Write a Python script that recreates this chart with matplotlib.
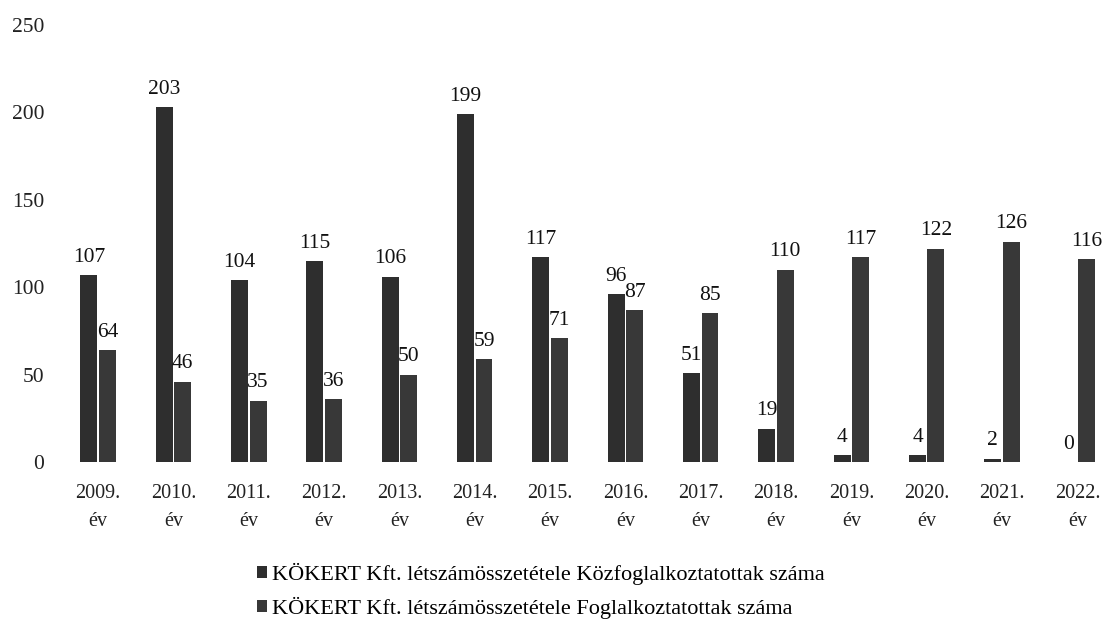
import matplotlib
matplotlib.use("Agg")
import matplotlib.pyplot as plt
import numpy as np

years = ["2009.", "2010.", "2011.", "2012.", "2013.", "2014.", "2015.",
         "2016.", "2017.", "2018.", "2019.", "2020.", "2021.", "2022."]
categories = [y + "\név" for y in years]
kozfoglalkoztatottak = [107, 203, 104, 115, 106, 199, 117, 96, 51, 19, 4, 4, 2, 0]
foglalkoztatottak = [64, 46, 35, 36, 50, 59, 71, 87, 85, 110, 117, 122, 126, 116]
series_names = ["KÖKERT Kft. létszámösszetétele Közfoglalkoztatottak száma",
                "KÖKERT Kft. létszámösszetétele Foglalkoztatottak száma"]
yticks = [0, 50, 100, 150, 200, 250]

plt.rcParams['font.family'] = ['Liberation Serif', 'DejaVu Serif']

fig = plt.figure(figsize=(11.05, 6.23), dpi=100)
ax = fig.add_axes([65 / 1105, (623 - 462) / 623, (1100 - 65) / 1105, 437 / 623])

x = np.arange(len(categories))
w = 0.225
gap = 0.02
c1 = "#2e2e2e"
c2 = "#383838"
b1 = ax.bar(x - w / 2 - gap / 2, kozfoglalkoztatottak, w, color=c1, label=series_names[0])
b2 = ax.bar(x + w / 2 + gap / 2, foglalkoztatottak, w, color=c2, label=series_names[1])

for bars, vals in ((b1, kozfoglalkoztatottak), (b2, foglalkoztatottak)):
    for b, v in zip(bars, vals):
        ax.annotate(str(v), (b.get_x() + b.get_width() / 2, b.get_height()),
                    xytext=(0, 6), textcoords="offset points",
                    ha="center", va="bottom", fontsize=15.5, color="#111111")

ax.set_xlim(-0.44, 13.3)
ax.set_ylim(0, 250)
ax.set_yticks(yticks)
ax.set_yticklabels([str(t) for t in yticks], fontsize=15.5, color="#222222")
ax.set_xticks(x)
ax.set_xticklabels(categories, fontsize=14.5, color="#222222", linespacing=1.65)
ax.tick_params(axis="both", length=0)
ax.tick_params(axis="y", pad=15)
ax.tick_params(axis="x", pad=16)
for s in ax.spines.values():
    s.set_visible(False)

leg = fig.legend(handles=[b1, b2], labels=series_names, loc="upper left",
                 bbox_to_anchor=(253 / 1105, 1 - 558 / 623), frameon=False,
                 fontsize=16, ncol=1, handlelength=0.45, handleheight=0.45,
                 handletextpad=0.2, labelspacing=0.55, borderaxespad=0,
                 borderpad=0.2)

fig.savefig("out.png", dpi=100)
